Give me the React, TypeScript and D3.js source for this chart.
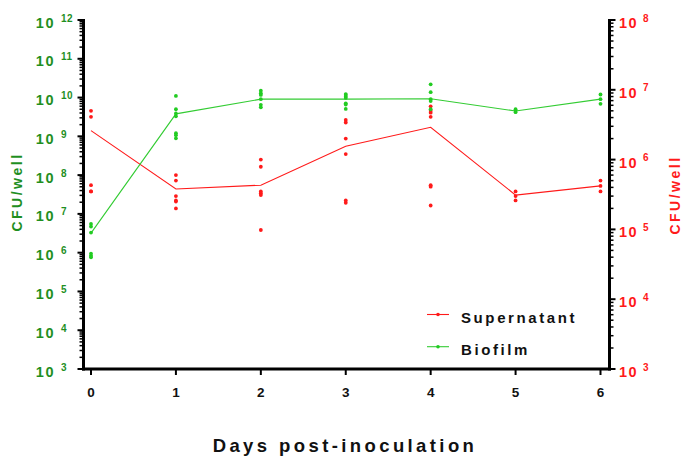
import React from "react";
import * as d3 from "d3";

const days = [0, 1, 2, 3, 4, 5, 6];

const biofilmReplicates: number[][] = [
  [5.5e6, 4.7e6, 3.3e6, 9.5e5, 8.3e5, 7.6e5],
  [1.1e10, 5.0e9, 3.9e9, 3.3e9, 1.2e9, 1.07e9, 8.9e8],
  [1.5e10, 1.3e10, 1.17e10, 9.1e9, 6.5e9, 5.6e9],
  [1.23e10, 1.17e10, 1.05e10, 9.8e9, 7.1e9, 6.6e9, 5.1e9],
  [2.2e10, 1.38e10, 9.1e9, 8.1e9, 5.0e9],
  [5.0e9, 4.6e9, 4.2e9],
  [1.2e10, 9.1e9, 6.9e9],
];
const biofilmMean = [3.2e6, 3.8e9, 9.1e9, 9.1e9, 9.3e9, 4.5e9, 9.1e9];

const supernatantReplicates: number[][] = [
  [5.0e6, 4.1e6, 4.3e5, 3.5e5, 3.5e5],
  [6.0e5, 5.0e5, 3.0e5, 2.6e5, 2.5e5, 2.0e5],
  [1.0e6, 7.9e5, 3.5e5, 3.3e5, 3.1e5, 9.8e4],
  [3.7e6, 3.4e6, 2.0e6, 1.2e6, 2.6e5, 2.4e5],
  [5.8e6, 5.0e6, 4.7e6, 4.1e6, 4.3e5, 4.1e5, 2.2e5],
  [3.5e5, 3.0e5, 2.6e5],
  [5.0e5, 4.2e5, 3.5e5],
];
const supernatantMean = [2.6e6, 3.8e5, 4.3e5, 1.55e6, 2.9e6, 3.1e5, 4.2e5];

const leftExponents = [3, 4, 5, 6, 7, 8, 9, 10, 11, 12];
const rightExponents = [3, 4, 5, 6, 7, 8];

const legendItems = [
  { label: "Supernatant", key: "sup" },
  { label: "Biofilm", key: "bio" },
];

const W = 684;
const H = 458;
const FONT = "'Liberation Sans', Arial, Helvetica, sans-serif";
const LABEL_GREEN = "#1f8f1f";
const POINT_GREEN = "#22cc22";
const LINE_GREEN = "#33cc33";
const RED = "#ff1a1a";

function minorValues(minExp: number, maxExp: number): number[] {
  const out: number[] = [];
  for (let e = minExp; e < maxExp; e++) {
    for (let k = 2; k <= 9; k++) out.push(k * Math.pow(10, e));
  }
  return out;
}

export default function App() {
  const x = d3.scaleLinear().domain([0, 6]).range([91, 600.5]);
  const yL = d3.scaleLog().domain([1e3, 1e12]).range([369, 20]);
  const yR = d3.scaleLog().domain([1e3, 1e8]).range([369, 20]);

  const leftAxisX = 83.5;
  const rightAxisX = 609.5;
  const bottomY = 369;

  const lineBio = d3
    .line<number>()
    .x((_, i) => x(days[i]))
    .y((d) => yL(d));
  const lineSup = d3
    .line<number>()
    .x((_, i) => x(days[i]))
    .y((d) => yR(d));

  return (
    <svg
      width={W}
      height={H}
      style={{ position: "absolute", left: 0, top: 0, background: "#fff" }}
      fontFamily={FONT}
    >
      <rect x={0} y={0} width={W} height={H} fill="#fff" />

      {/* Left axis */}
      <line x1={leftAxisX} x2={leftAxisX} y1={19} y2={bottomY + 1.5} stroke="#000" strokeWidth={3} />
      {minorValues(3, 12).map((v, i) => (
        <line key={"lm" + i} x1={leftAxisX - 4} x2={leftAxisX} y1={yL(v)} y2={yL(v)} stroke="#000" strokeWidth={1.5} />
      ))}
      {leftExponents.map((e) => {
        const yy = yL(Math.pow(10, e));
        return (
          <g key={"lt" + e}>
            <line x1={leftAxisX - 6} x2={leftAxisX} y1={yy} y2={yy} stroke="#000" strokeWidth={2} />
            <text x={55} y={yy + 7.5} textAnchor="end" fontSize={14.5} fontWeight="bold" fill={LABEL_GREEN} letterSpacing={1.5}>
              10
            </text>
            <text x={61} y={yy + 1.5} textAnchor="start" fontSize={10} fontWeight="bold" fill={LABEL_GREEN} letterSpacing={0.5}>
              {e}
            </text>
          </g>
        );
      })}

      {/* Right axis */}
      <line x1={rightAxisX} x2={rightAxisX} y1={19} y2={bottomY + 1.5} stroke="#000" strokeWidth={3} />
      {minorValues(3, 8).map((v, i) => (
        <line key={"rm" + i} x1={rightAxisX} x2={rightAxisX + 4} y1={yR(v)} y2={yR(v)} stroke="#000" strokeWidth={1.5} />
      ))}
      {rightExponents.map((e) => {
        const yy = yR(Math.pow(10, e));
        return (
          <g key={"rt" + e}>
            <line x1={rightAxisX} x2={rightAxisX + 6} y1={yy} y2={yy} stroke="#000" strokeWidth={2} />
            <text x={619} y={yy + 8} textAnchor="start" fontSize={14.5} fontWeight="bold" fill={RED} letterSpacing={1.5}>
              10
            </text>
            <text x={643} y={yy + 1.5} textAnchor="start" fontSize={10} fontWeight="bold" fill={RED}>
              {e}
            </text>
          </g>
        );
      })}

      {/* Bottom axis */}
      <line x1={leftAxisX - 1.5} x2={rightAxisX + 1.5} y1={bottomY} y2={bottomY} stroke="#000" strokeWidth={3} />
      {days.map((d) => (
        <g key={"xt" + d}>
          <line x1={x(d)} x2={x(d)} y1={bottomY} y2={bottomY + 6} stroke="#000" strokeWidth={2} />
          <text x={x(d)} y={397} textAnchor="middle" fontSize={13.5} fontWeight="bold" fill="#111">
            {d}
          </text>
        </g>
      ))}

      {/* Axis titles */}
      <text
        transform="translate(22,192) rotate(-90)"
        textAnchor="middle"
        fontSize={14}
        fontWeight="bold"
        fill={LABEL_GREEN}
        letterSpacing={2.5}
      >
        CFU/well
      </text>
      <text
        transform="translate(680,195) rotate(-90)"
        textAnchor="middle"
        fontSize={14}
        fontWeight="bold"
        fill={RED}
        letterSpacing={2.5}
      >
        CFU/well
      </text>
      <text x={345} y={452} textAnchor="middle" fontSize={18.5} fontWeight="bold" fill="#111" letterSpacing={3.4}>
        Days post-inoculation
      </text>

      {/* Mean lines */}
      <path d={lineSup(supernatantMean) || ""} fill="none" stroke={RED} strokeWidth={1.1} />
      <path d={lineBio(biofilmMean) || ""} fill="none" stroke={LINE_GREEN} strokeWidth={1.1} />

      {/* Replicate points */}
      {supernatantReplicates.map((vals, i) =>
        vals.map((v, j) => <circle key={`s${i}-${j}`} cx={x(days[i])} cy={yR(v)} r={1.9} fill={RED} />)
      )}
      {biofilmReplicates.map((vals, i) =>
        vals.map((v, j) => <circle key={`b${i}-${j}`} cx={x(days[i])} cy={yL(v)} r={1.9} fill={POINT_GREEN} />)
      )}

      {/* Legend */}
      {legendItems.map((it, i) => {
        const ly = 314.5 + i * 32.2;
        const col = it.key === "sup" ? RED : LINE_GREEN;
        const pcol = it.key === "sup" ? RED : POINT_GREEN;
        return (
          <g key={it.key}>
            <line x1={427} x2={449} y1={ly} y2={ly} stroke={col} strokeWidth={1.1} />
            <circle cx={438} cy={ly} r={1.8} fill={pcol} />
            <text x={461} y={ly + 8} fontSize={15} fontWeight="bold" fill="#111" letterSpacing={2.6}>
              {it.label}
            </text>
          </g>
        );
      })}
    </svg>
  );
}
